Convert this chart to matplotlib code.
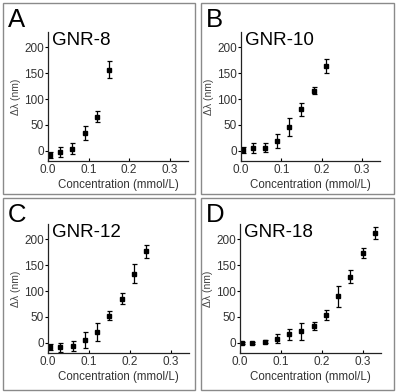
import numpy as np
import matplotlib
matplotlib.use("Agg")
import matplotlib.pyplot as plt
from matplotlib.patches import Rectangle

plt.rcParams["font.family"] = ["Liberation Sans", "DejaVu Sans"]

# concentration (mmol/L), shift (nm), error (nm)
x_a = [0.005, 0.03, 0.06, 0.09, 0.12, 0.15]
y_a = [-8, -3, 4, 34, 66, 157]
e_a = [5.5, 10, 10, 13, 10, 16]

x_b = [0.005, 0.03, 0.06, 0.09, 0.12, 0.15, 0.18, 0.21]
y_b = [2, 5, 6, 19, 46, 80, 116, 164]
e_b = [6, 10, 8, 14, 17, 12, 7, 14]

x_c = [0.005, 0.03, 0.06, 0.09, 0.12, 0.15, 0.18, 0.21, 0.24]
y_c = [-8, -9, -7, 5, 21, 52, 85, 134, 177]
e_c = [5.5, 9, 10, 15, 18, 9, 11, 18, 12]

x_d = [0.005, 0.03, 0.06, 0.09, 0.12, 0.15, 0.18, 0.21, 0.24, 0.27, 0.30, 0.33]
y_d = [0, 0, 2, 8, 16, 22, 32, 54, 90, 128, 174, 212]
e_d = [2, 2, 3, 9, 11, 16, 8, 10, 20, 13, 9, 12]

letters = ["A", "B", "C", "D"]
names = ["GNR-8", "GNR-10", "GNR-12", "GNR-18"]
data = [(x_a, y_a, e_a), (x_b, y_b, e_b), (x_c, y_c, e_c), (x_d, y_d, e_d)]

W, H = 399, 392
fig = plt.figure(figsize=(W / 100, H / 100), dpi=100)

# panel boxes (pixels: x0, y0, x1, y1) and axes (left, top, right, bottom)
boxes = [(3, 3, 195, 194), (201, 3, 394, 194), (3, 198, 195, 390), (201, 198, 394, 390)]
axpos = [(48, 32, 188, 161), (241, 32, 380, 161), (48, 224, 189, 353), (240, 224, 381, 353)]

for i in range(4):
    bx0, by0, bx1, by1 = boxes[i]
    fig.patches.append(Rectangle((bx0 / W, 1 - by1 / H), (bx1 - bx0) / W, (by1 - by0) / H,
                                 transform=fig.transFigure, fill=False,
                                 edgecolor="#8a8a8a", lw=1.0))
    fig.text((bx0 + 5) / W, 1 - (by0 + 24) / H, letters[i], fontsize=18.5, color="black")

    l, t, r, b = axpos[i]
    ax = fig.add_axes([l / W, 1 - b / H, (r - l) / W, (b - t) / H])
    x, y, e = data[i]
    ax.errorbar(x, y, yerr=e, fmt="s", color="black", ms=3.2, capsize=1.8,
                elinewidth=0.9, capthick=0.9)
    ax.set_xlim(-0.0, 0.345)
    ax.set_ylim(-20, 230)
    ax.set_xticks([0.0, 0.1, 0.2, 0.3])
    ax.set_xticklabels(["0.0", "0.1", "0.2", "0.3"])
    ax.set_yticks([0, 50, 100, 150, 200])
    ax.spines["top"].set_visible(False)
    ax.spines["right"].set_visible(False)
    for s in ["left", "bottom"]:
        ax.spines[s].set_linewidth(0.9)
        ax.spines[s].set_color("#222222")
    ax.tick_params(axis="x", direction="in", length=2, width=0.8, labelsize=8.5,
                   labelcolor="#333333", pad=2.5)
    ax.tick_params(axis="y", direction="out", length=2, width=0.8, labelsize=8.5,
                   labelcolor="#333333", pad=1)
    ax.set_xlabel("Concentration (mmol/L)", fontsize=8.3, color="#333333", labelpad=2)
    ax.set_ylabel("Δλ (nm)", fontsize=7.5, color="#444444", labelpad=2)
    ax.text(0.03, 1.0, names[i], transform=ax.transAxes, fontsize=13.5,
            va="top", ha="left", color="black")
    ax.patch.set_alpha(0)

fig.savefig("out.png", dpi=100)
